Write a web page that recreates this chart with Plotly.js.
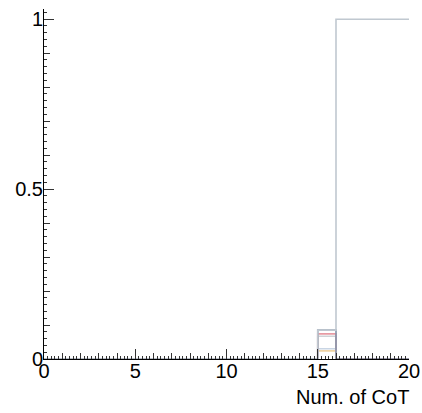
<!DOCTYPE html>
<html>
<head>
<meta charset="utf-8">
<script src="https://cdn.plot.ly/plotly-3.0.1.min.js"></script>
<style>
  html, body { margin: 0; padding: 0; background: #ffffff; }
  #chart { width: 422px; height: 413px; }
</style>
</head>
<body>
<div id="chart"></div>
<script>
// Bin edges of the CoT-count histograms: 20 unit bins from 0 to 20
const binEdges = [0,1,2,3,4,5,6,7,8,9,10,11,12,13,14,15,16,17,18,19,20];

// Normalised bin contents, one array per histogram
const histGray   = [0,0,0,0,0,0,0,0,0,0,0,0,0,0,0,0.085,1,1,1,1];
const histSlate  = [0,0,0,0,0,0,0,0,0,0,0,0,0,0,0,0.085,0,0,0,0];
const histRose   = [0,0,0,0,0,0,0,0,0,0,0,0,0,0,0,0.074,0,0,0,0];
const histSilver = [0,0,0,0,0,0,0,0,0,0,0,0,0,0,0,0.067,0,0,0,0];
const histSky    = [0,0,0,0,0,0,0,0,0,0,0,0,0,0,0,0.030,0,0,0,0];
const histSand   = [0,0,0,0,0,0,0,0,0,0,0,0,0,0,0,0.024,0,0,0,0];

const xTickVals = [0, 5, 10, 15, 20];
const xTickText = ['0', '5', '10', '15', '20'];
const yTickVals = [0, 0.5, 1];
const yTickText = ['0', '0.5', '1'];
const xTitle = 'Num. of CoT';

// Step outline of a histogram: each bin's content held across its width
function stepTrace(values, color) {
  const xs = [], ys = [];
  for (let i = 0; i < values.length; i++) {
    xs.push(binEdges[i]);
    ys.push(values[i]);
  }
  xs.push(binEdges[values.length]);
  ys.push(values[values.length - 1]);
  return {
    type: 'scatter', mode: 'lines', x: xs, y: ys,
    line: { shape: 'hv', color: color, width: 1.6 },
    hoverinfo: 'skip', showlegend: false
  };
}

const traces = [
  stepTrace(histSand,   '#f0d3a4'),
  stepTrace(histSky,    '#c9d5e4'),
  stepTrace(histSilver, '#cfd2d6'),
  stepTrace(histRose,   '#e79aa3'),
  stepTrace(histSlate,  '#8394aa'),
  stepTrace(histGray,   '#c0c8d0')
];
// invisible trace that carries the finest tick subdivision axes
traces.push({ type: 'scatter', mode: 'markers', x: [0], y: [0], xaxis: 'x2', yaxis: 'y2',
  marker: { opacity: 0 }, hoverinfo: 'skip', showlegend: false });

const tickFont = { family: 'Liberation Sans, Arial, sans-serif', size: 20, color: '#000000' };

const layout = {
  width: 422, height: 413,
  margin: { l: 44, r: 13, t: 9, b: 54 },
  paper_bgcolor: '#ffffff', plot_bgcolor: '#ffffff',
  showlegend: false,
  xaxis: {
    range: [0, 20], showgrid: false, zeroline: false,
    showline: true, linecolor: '#000000', linewidth: 1,
    ticks: 'inside', ticklen: 10, tickcolor: '#333333', tickwidth: 1,
    tickmode: 'array', tickvals: xTickVals, ticktext: xTickText,
    minor: { dtick: 1, ticklen: 6, tickcolor: '#333333', ticks: 'inside' },
    tickfont: tickFont, ticklabelstandoff: -6
  },
  yaxis: {
    range: [0, 1.03], showgrid: false, zeroline: false,
    showline: true, linecolor: '#000000', linewidth: 1,
    ticks: 'inside', ticklen: 10, tickcolor: '#333333', tickwidth: 1,
    tickmode: 'array', tickvals: yTickVals, ticktext: yTickText,
    minor: { dtick: 0.1, ticklen: 6, tickcolor: '#333333', ticks: 'inside' },
    tickfont: tickFont, ticklabelstandoff: -4
  },
  xaxis2: {
    overlaying: 'x', range: [0, 20], showgrid: false, zeroline: false, showline: false,
    ticks: 'inside', ticklen: 3, tickcolor: '#333333', dtick: 0.2, tick0: 0,
    showticklabels: false, anchor: 'y2'
  },
  yaxis2: {
    overlaying: 'y', range: [0, 1.03], showgrid: false, zeroline: false, showline: false,
    ticks: 'inside', ticklen: 3, tickcolor: '#333333', dtick: 0.02, tick0: 0,
    showticklabels: false, anchor: 'x2'
  },
  annotations: [{
    text: xTitle, xref: 'paper', yref: 'paper', x: 1, y: 0,
    xanchor: 'right', yanchor: 'top', yshift: -25, xshift: 2, showarrow: false,
    font: tickFont
  }]
};

Plotly.newPlot('chart', traces, layout, { staticPlot: true, displayModeBar: false });
</script>
</body>
</html>
